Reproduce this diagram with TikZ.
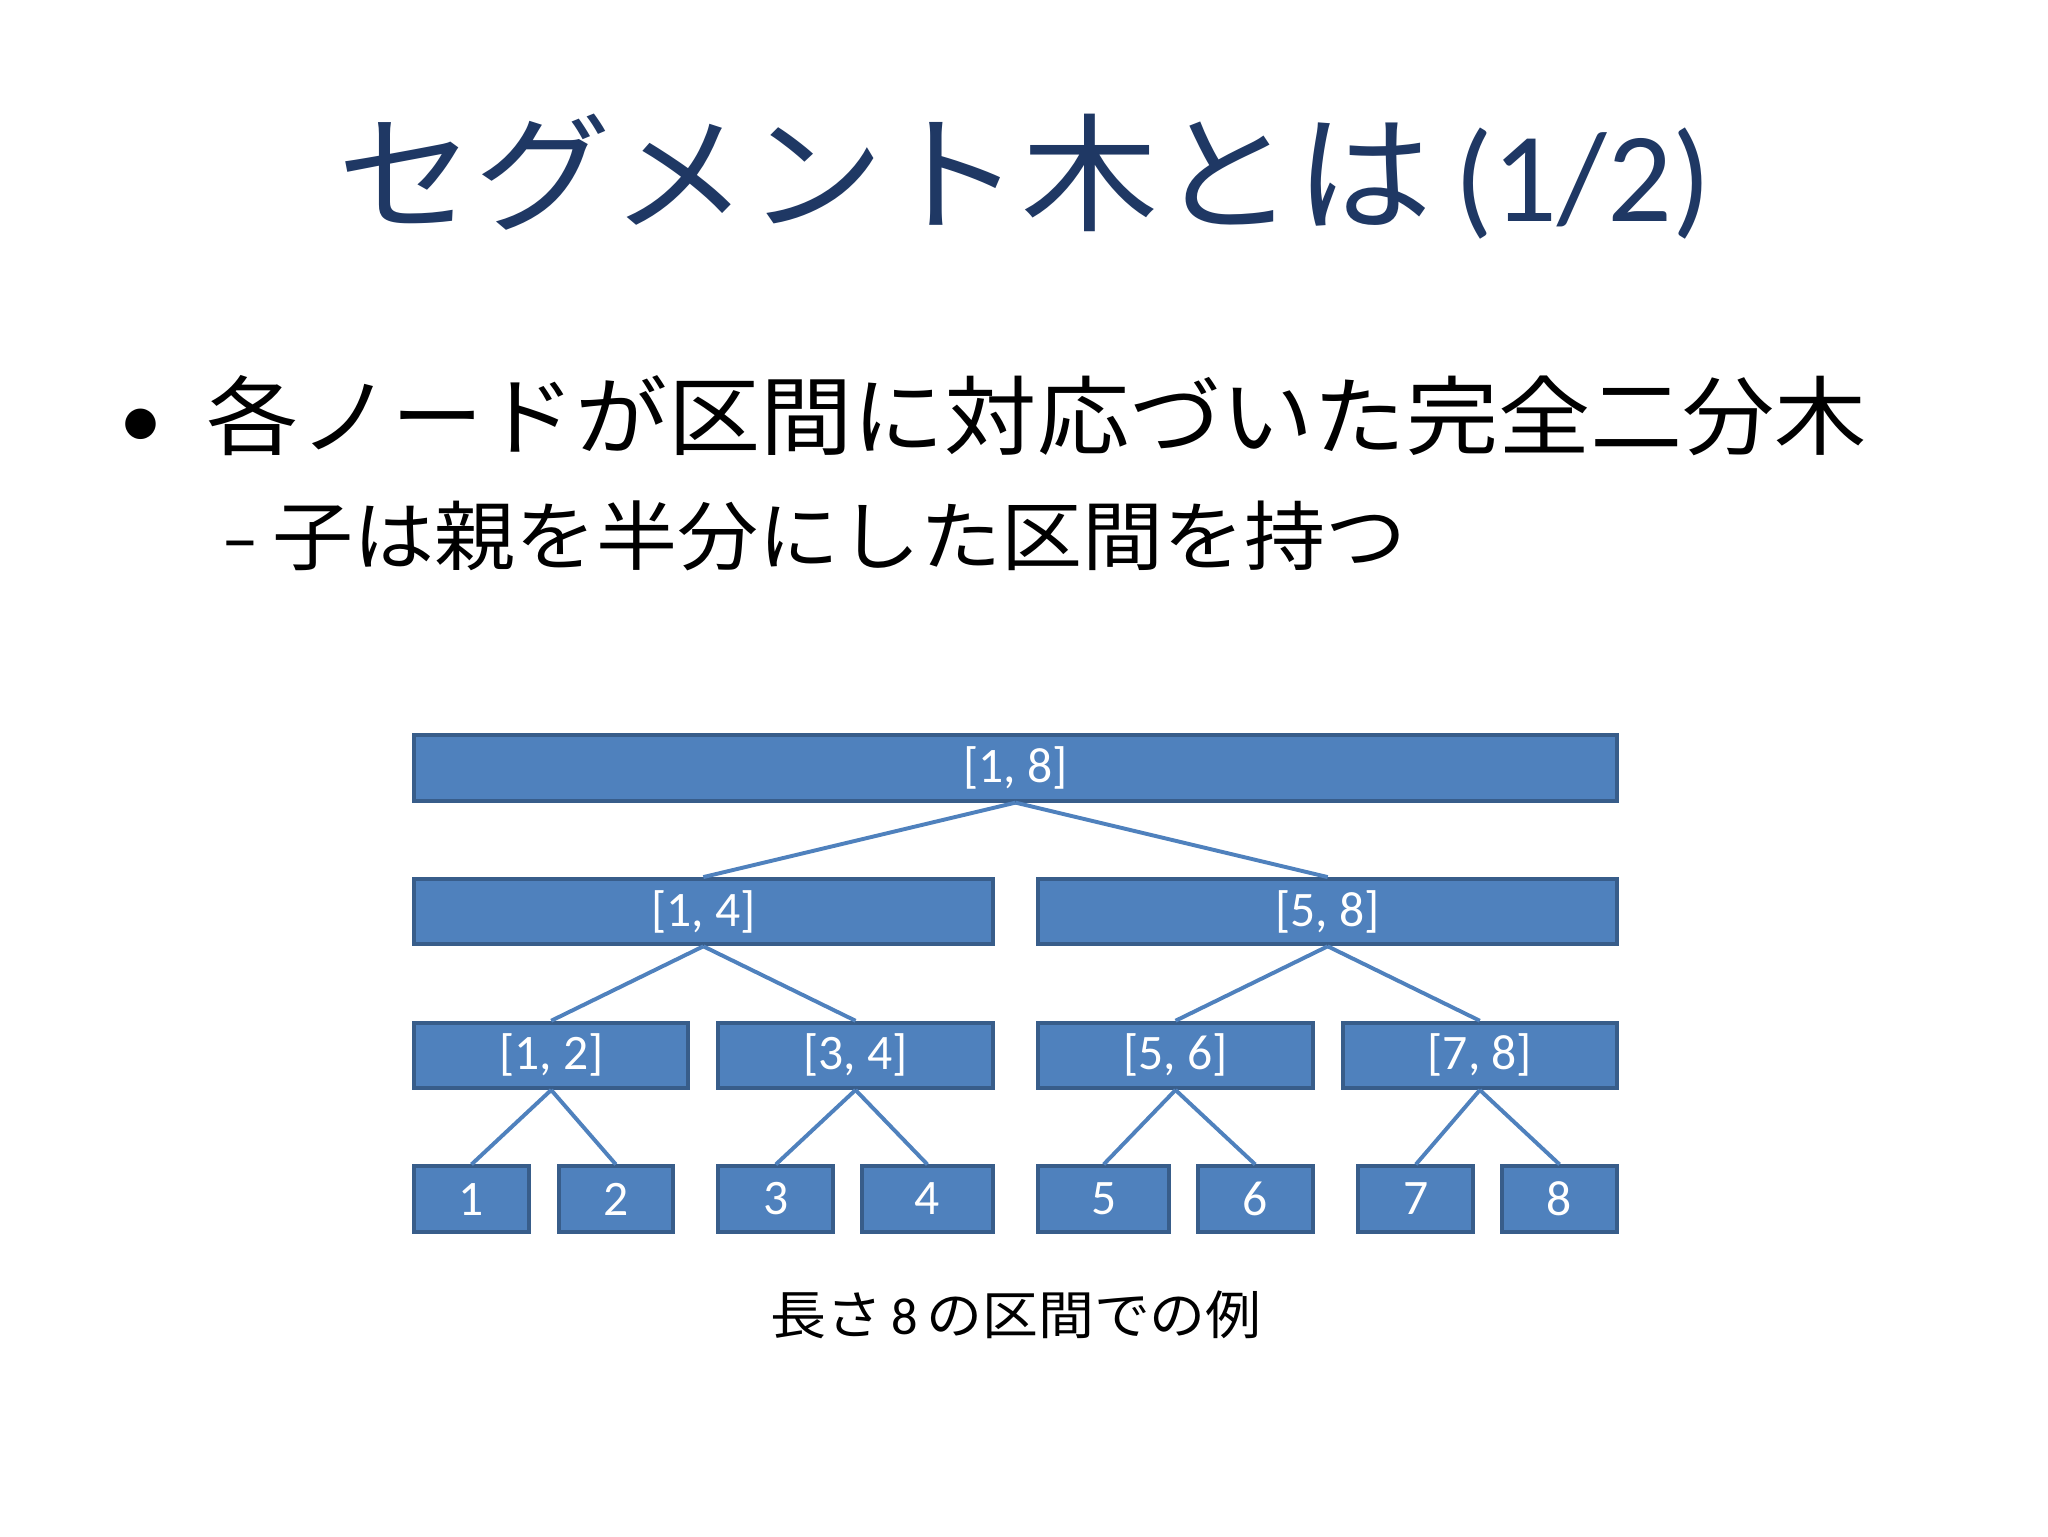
\documentclass[tikz,border=0pt]{standalone}
\usepackage{fontspec}
\setmainfont{Carlito}
\newfontfamily\jp{Noto Sans CJK JP}[FakeStretch=1.07]
\definecolor{titleblue}{RGB}{31,56,100}
\definecolor{boxfill}{RGB}{79,129,189}
\definecolor{boxline}{RGB}{56,93,138}
\definecolor{edgeblue}{RGB}{79,129,189}
\begin{document}
\begin{tikzpicture}[x=1pt,y=-1pt,
  seg/.style={draw=boxline,line width=3pt,fill=boxfill,text=white,font=\fontsize{38}{40}\selectfont,inner sep=0pt},
  edge/.style={draw=edgeblue,line width=3pt}]
\useasboundingbox (0,0) rectangle (1568,1176);
\fill[white] (0,0) rectangle (1568,1176);
\newcommand{\bx}[6]{\node[seg,minimum width={#3-#2},minimum height={#5-#4}] (#1) at ({(#2+#3)/2},{(#4+#5)/2}) {#6};}
\node[text=titleblue,font=\fontsize{98}{100}\selectfont] (title) at (784,135) {{\jp セグメント木とは}\,(1/2)};
\node[anchor=west,font=\fontsize{66}{70}\selectfont] (b1) at (88,318) {•\hspace{34pt}{\jp 各ノードが区間に対応づいた完全二分木}};
\node[anchor=west,font=\fontsize{58}{60}\selectfont] (b2) at (166,410) {–\hspace{10pt}{\jp 子は親を半分にした区間を持つ}};
\bx{r}{317}{1238}{563}{613}{[1, 8]}
\bx{a}{317}{760}{673}{723}{[1, 4]}
\bx{b}{795}{1238}{673}{723}{[5, 8]}
\bx{c}{317}{527}{783}{833}{[1, 2]}
\bx{d}{550}{760}{783}{833}{[3, 4]}
\bx{e}{795}{1005}{783}{833}{[5, 6]}
\bx{f}{1028}{1238}{783}{833}{[7, 8]}
\bx{l1}{317}{405}{893}{943}{1}
\bx{l2}{428}{515}{893}{943}{2}
\bx{l3}{550}{638}{893}{943}{3}
\bx{l4}{660}{760}{893}{943}{4}
\bx{l5}{795}{895}{893}{943}{5}
\bx{l6}{917}{1005}{893}{943}{6}
\bx{l7}{1040}{1128}{893}{943}{7}
\bx{l8}{1150}{1238}{893}{943}{8}
\foreach \p/\q in {r/a,r/b,a/c,a/d,b/e,b/f,c/l1,c/l2,d/l3,d/l4,e/l5,e/l6,f/l7,f/l8}
  \draw[edge] (\p.south) -- (\q.north);
\node[font=\fontsize{40}{40}\selectfont] (cap) at (778,1007) {{\jp 長さ}\,8\,{\jp の区間での例}};
\end{tikzpicture}
\end{document}
